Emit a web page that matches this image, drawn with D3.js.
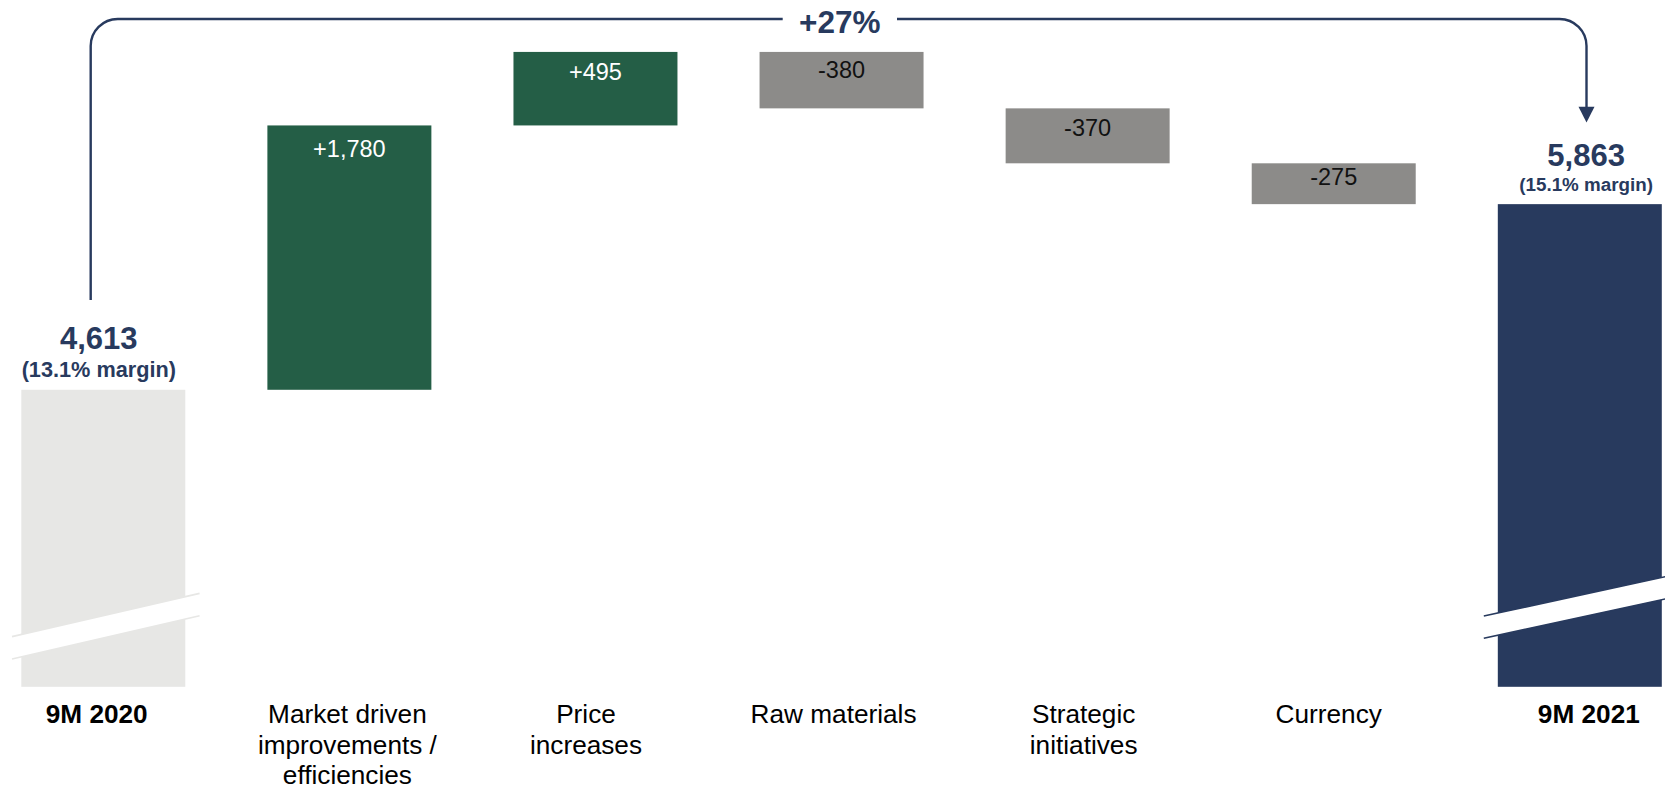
<!DOCTYPE html>
<html>
<head>
<meta charset="utf-8">
<script src="https://cdn.jsdelivr.net/npm/d3@7"></script>
<style>
  html, body { margin: 0; padding: 0; background: #ffffff; }
  svg { display: block; font-family: "Liberation Sans", Arial, sans-serif; }
</style>
</head>
<body>
<svg id="chart" width="1665" height="790"></svg>
<script>
// ---- data ----
const categories = ["9M 2020", "Market driven improvements / efficiencies", "Price increases",
  "Raw materials", "Strategic initiatives", "Currency", "9M 2021"];
const categoryLines = [
  ["9M 2020"],
  ["Market driven", "improvements /", "efficiencies"],
  ["Price", "increases"],
  ["Raw materials"],
  ["Strategic", "initiatives"],
  ["Currency"],
  ["9M 2021"]
];
const startValue = 4613;
const endValue = 5863;
const deltas = [1780, 495, -380, -370, -275];
const deltaLabels = ["+1,780", "+495", "-380", "-370", "-275"];
const totalLabels = ["4,613", "5,863"];
const marginLabels = ["(13.1% margin)", "(15.1% margin)"];
const growthLabel = "+27%";
const axisBreakValue = 2613; // truncated base of the total bars

// ---- style ----
const NAVY = "#283a5e";
const GREEN = "#245e46";
const GREY = "#8c8b89";
const LIGHT = "#e7e7e5";
const deltaLabelDy = [31.6, 27.7, 26, 27.3, 22];
const catLabelDx = [-6.6, -2, -9.5, -8, -4, -5, 9];

const svg = d3.select("#chart");

const x = d3.scaleBand().domain(categories).range([21.3, 1661.8])
  .paddingInner(0.3336).paddingOuter(0);
const bw = x.bandwidth();
const cx = i => x(categories[i]) + bw / 2;
const y = d3.scaleLinear().domain([axisBreakValue, 6000]).range([686.8, 183.8]);

// build waterfall steps
const steps = [];
steps.push({i: 0, y0: axisBreakValue, y1: startValue, fill: LIGHT, type: "total"});
let run = startValue;
deltas.forEach((d, k) => {
  steps.push({i: k + 1, y0: run, y1: run + d, fill: d >= 0 ? GREEN : GREY, type: "delta", k});
  run += d;
});
steps.push({i: 6, y0: axisBreakValue, y1: endValue, fill: NAVY, type: "total"});

svg.append("g").selectAll("rect").data(steps).join("rect")
  .attr("x", d => x(categories[d.i]))
  .attr("width", bw)
  .attr("y", d => y(Math.max(d.y0, d.y1)))
  .attr("height", d => Math.abs(y(d.y0) - y(d.y1)))
  .attr("fill", d => d.fill);

// delta labels inside bars
svg.append("g").selectAll("text").data(steps.filter(d => d.type === "delta")).join("text")
  .attr("x", d => cx(d.i))
  .attr("y", d => y(Math.max(d.y0, d.y1)) + deltaLabelDy[d.k])
  .attr("text-anchor", "middle")
  .attr("font-size", 23.5)
  .attr("fill", d => d.y1 >= d.y0 ? "#ffffff" : "#111111")
  .text(d => deltaLabels[d.k]);

// axis break marks
const breaks = [
  {i: 0, up: 71.2, color: LIGHT, extL: 9.3, extR: 14.3, slope: -0.2305},
  {i: 6, up: 91.6, color: NAVY, extL: 14, extR: 14, slope: -0.217}
];
const gap = 22.3;
breaks.forEach(b => {
  const c = cx(b.i);
  const base = y(axisBreakValue) - b.up;
  const xl = c - bw / 2 - b.extL, xr = c + bw / 2 + b.extR;
  const yl = base + b.slope * (xl - c), yr = base + b.slope * (xr - c);
  svg.append("polygon")
    .attr("points", [[xl, yl], [xr, yr], [xr, yr + gap], [xl, yl + gap]].map(p => p.join(",")).join(" "))
    .attr("fill", "#ffffff");
  [0, gap].forEach(off => {
    svg.append("line")
      .attr("x1", xl).attr("y1", yl + off).attr("x2", xr).attr("y2", yr + off)
      .attr("stroke", b.color).attr("stroke-width", 1.6);
  });
});

// total labels
const totalInfo = [
  {i: 0, dx: -4.5, numBase: 349, marBase: 377.3, marSize: 21.7},
  {i: 6, dx: 6.3, numBase: 165.7, marBase: 190.5, marSize: 18.8}
];
totalInfo.forEach((t, k) => {
  svg.append("text")
    .attr("x", cx(t.i) + t.dx).attr("y", t.numBase)
    .attr("text-anchor", "middle").attr("font-size", 31).attr("font-weight", "bold")
    .attr("fill", NAVY).text(totalLabels[k]);
  svg.append("text")
    .attr("x", cx(t.i) + t.dx).attr("y", t.marBase)
    .attr("text-anchor", "middle").attr("font-size", t.marSize).attr("font-weight", "bold")
    .attr("fill", NAVY).text(marginLabels[k]);
});

// category labels
const cat = svg.append("g").selectAll("text").data(categoryLines).join("text")
  .attr("text-anchor", "middle")
  .attr("font-size", 26.2)
  .attr("font-weight", (d, i) => (i === 0 || i === 6) ? "bold" : "normal")
  .attr("fill", "#000000")
  .attr("transform", (d, i) => `translate(${cx(i) + catLabelDx[i]},723.3)`);
cat.selectAll("tspan").data(d => d).join("tspan")
  .attr("x", 0).attr("y", (d, j) => j * 30.5).text(d => d);

// growth bracket
const bx0 = cx(0) - 12.6, bx1 = cx(6) + 6.7, by = 19, r = 27;
const gapL = 782.7, gapR = 897;
const leftPath = d3.path();
leftPath.moveTo(bx0, 300);
leftPath.lineTo(bx0, by + r);
leftPath.arcTo(bx0, by, bx0 + r, by, r);
leftPath.lineTo(gapL, by);
svg.append("path").attr("d", leftPath.toString()).attr("fill", "none")
  .attr("stroke", NAVY).attr("stroke-width", 2.4);
const rightPath = d3.path();
rightPath.moveTo(gapR, by);
rightPath.lineTo(bx1 - r, by);
rightPath.arcTo(bx1, by, bx1, by + r, r);
rightPath.lineTo(bx1, 108);
svg.append("path").attr("d", rightPath.toString()).attr("fill", "none")
  .attr("stroke", NAVY).attr("stroke-width", 2.4);
svg.append("polygon")
  .attr("points", `${bx1 - 8},106.7 ${bx1 + 8},106.7 ${bx1},122.5`)
  .attr("fill", NAVY);
svg.append("text")
  .attr("x", (gapL + gapR) / 2).attr("y", 33.3)
  .attr("text-anchor", "middle").attr("font-size", 31.5).attr("font-weight", "bold")
  .attr("fill", NAVY).text(growthLabel);
</script>
</body>
</html>
